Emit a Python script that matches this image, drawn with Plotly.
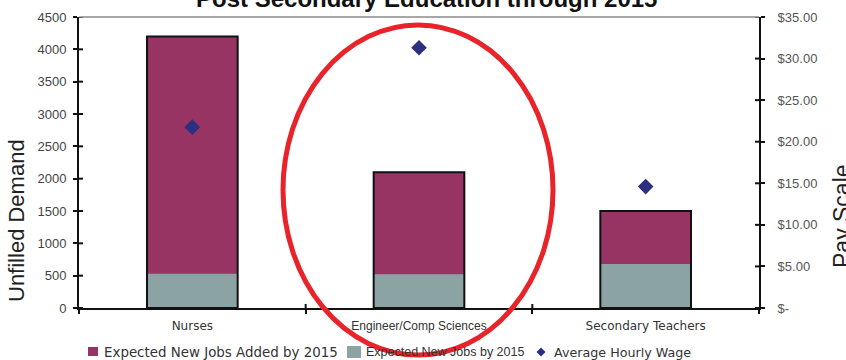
import plotly.graph_objects as go

categories = ["Nurses", "Engineer/Comp Sciences", "Secondary Teachers"]
new_jobs_total = [4200, 2100, 1500]          # Expected New Jobs Added by 2015 (bar top)
new_grads = [530, 520, 680]                  # Expected New ... by 2015 (grey lower part)
avg_wage = [21.75, 31.3, 14.6]               # Average Hourly Wage ($)
series_names = ["Expected New Jobs Added by 2015", "Expected New Jobs by 2015", "Average Hourly Wage"]

left_ticks = list(range(0, 4501, 500))
right_ticks = [0, 5, 10, 15, 20, 25, 30, 35]
right_labels = ["$-", "$5.00", "$10.00", "$15.00", "$20.00", "$25.00", "$30.00", "$35.00"]
cat_labels = ["Nurses", '<span style="font-family:Arial;font-size:12px">Engineer/Comp Sciences</span>',
              "Secondary Teachers"]

PURPLE = "#983464"
GREY = "#8CA3A4"
NAVY = "#2B3080"

fig = go.Figure()
fig.add_trace(go.Bar(x=categories, y=new_jobs_total, name=series_names[0], showlegend=False,
                     marker=dict(color=PURPLE, line=dict(width=0)), width=0.4))
fig.add_trace(go.Bar(x=categories, y=new_grads, name=series_names[1], showlegend=False,
                     marker=dict(color=GREY, line=dict(width=0)), width=0.4))
fig.add_trace(go.Bar(x=categories, y=new_jobs_total, showlegend=False, hoverinfo="skip",
                     marker=dict(color="rgba(0,0,0,0)", line=dict(color="#111", width=2)), width=0.4))
fig.add_trace(go.Scatter(x=categories, y=avg_wage, name=series_names[2], mode="markers", showlegend=False,
                         yaxis="y2", marker=dict(symbol="diamond", size=12, color=NAVY)))

L, R, T, B = 79, 87, 17, 52
PW, PH = 846 - L - R, 360 - T - B


def px(x):
    return (x - L) / PW


def py(y):
    return (308 - y) / PH


shapes = []
# inner halves of the tick marks
for v in left_ticks:
    shapes.append(dict(type="line", xref="paper", yref="y", x0=0, x1=4 / PW, y0=v, y1=v,
                       line=dict(color="#111", width=2)))
for v in right_ticks:
    shapes.append(dict(type="line", xref="paper", yref="y2", x0=1 - 4 / PW, x1=1, y0=v, y1=v,
                       line=dict(color="#111", width=2)))
for b in [0.5, 1.5]:
    shapes.append(dict(type="line", xref="x", yref="paper", x0=b, x1=b, y0=0, y1=4 / PH,
                       line=dict(color="#111", width=2)))
# top border
shapes.append(dict(type="line", xref="paper", yref="paper", x0=0, x1=1, y0=1, y1=1,
                   line=dict(color="#8a8a8a", width=1.5)))

# legend symbols
shapes.append(dict(type="rect", xref="paper", yref="paper", x0=px(88), x1=px(98), y0=py(356), y1=py(347),
                   fillcolor=PURPLE, line=dict(width=0)))
shapes.append(dict(type="rect", xref="paper", yref="paper", x0=px(347), x1=px(361), y0=py(358), y1=py(346),
                   fillcolor=GREY, line=dict(width=0)))
dx, dy = 4.5 / PW, 4.5 / PH
cx, cy = px(541), py(352)
shapes.append(dict(type="path", xref="paper", yref="paper",
                   path=f"M {cx},{cy + dy} L {cx + dx},{cy} L {cx},{cy - dy} L {cx - dx},{cy} Z",
                   fillcolor=NAVY, line=dict(width=0)))

# red hand-drawn ellipse
shapes.append(dict(type="circle", xref="paper", yref="paper",
                   x0=px(283), x1=px(553), y0=py(355), y1=py(25),
                   line=dict(color="#E8232A", width=5)))

annotations = [
    dict(text="<b>Post Secondary Education through 2015</b>", xref="paper", yref="paper",
         x=px(426), y=py(14), xanchor="center", yanchor="bottom", showarrow=False,
         font=dict(family="Arial", size=24, color="#111")),
    dict(text="Unfilled Demand", xref="paper", yref="paper", x=px(16), y=py(221),
         textangle=-90, showarrow=False, xanchor="center", yanchor="middle",
         font=dict(family="Arial", size=22, color="#222")),
    dict(text="Pay Scale", xref="paper", yref="paper", x=px(842), y=py(216),
         textangle=-90, showarrow=False, xanchor="center", yanchor="middle",
         font=dict(family="Arial", size=23, color="#222")),
    # legend texts
    dict(text=series_names[0], xref="paper", yref="paper", x=px(102), y=py(352), xanchor="left",
         yanchor="middle", showarrow=False, font=dict(family="DejaVu Sans", size=13.4, color="#333")),
    dict(text=series_names[1], xref="paper", yref="paper", x=px(364), y=py(352), xanchor="left",
         yanchor="middle", showarrow=False, font=dict(family="Arial", size=12.5, color="#333")),
    dict(text=series_names[2], xref="paper", yref="paper", x=px(552), y=py(352), xanchor="left",
         yanchor="middle", showarrow=False, font=dict(family="DejaVu Sans", size=12.7, color="#333")),
]

fig.update_layout(
    width=846, height=360,
    margin=dict(l=L, r=R, t=T, b=B, pad=0, autoexpand=False),
    paper_bgcolor="white", plot_bgcolor="white",
    barmode="overlay",
    showlegend=False,
    xaxis=dict(range=[-0.5, 2.5], showline=True, linecolor="#111", linewidth=2,
               tickvals=categories, ticktext=cat_labels,
               ticks="outside", tickson="boundaries", ticklen=4, tickwidth=2, tickcolor="#111",
               ticklabelstandoff=6,
               tickfont=dict(family="DejaVu Sans", size=12, color="#333"), showgrid=False,
               fixedrange=True),
    yaxis=dict(range=[0, 4500], tickvals=left_ticks, showline=True, linecolor="#111", linewidth=2,
               ticks="outside", ticklen=4, tickwidth=2, tickcolor="#111", showgrid=False,
               ticklabelstandoff=4,
               zeroline=False, tickfont=dict(family="Arial", size=13, color="#444")),
    yaxis2=dict(range=[0, 35], overlaying="y", side="right", tickvals=right_ticks, ticktext=right_labels,
                showline=True, linecolor="#111", linewidth=2, ticks="outside", ticklen=4, tickwidth=2,
                tickcolor="#111", showgrid=False, zeroline=False, ticklabelstandoff=10,
                tickfont=dict(family="Arial", size=13, color="#555")),
    shapes=shapes,
    annotations=annotations,
)

fig.write_html("out.html")
